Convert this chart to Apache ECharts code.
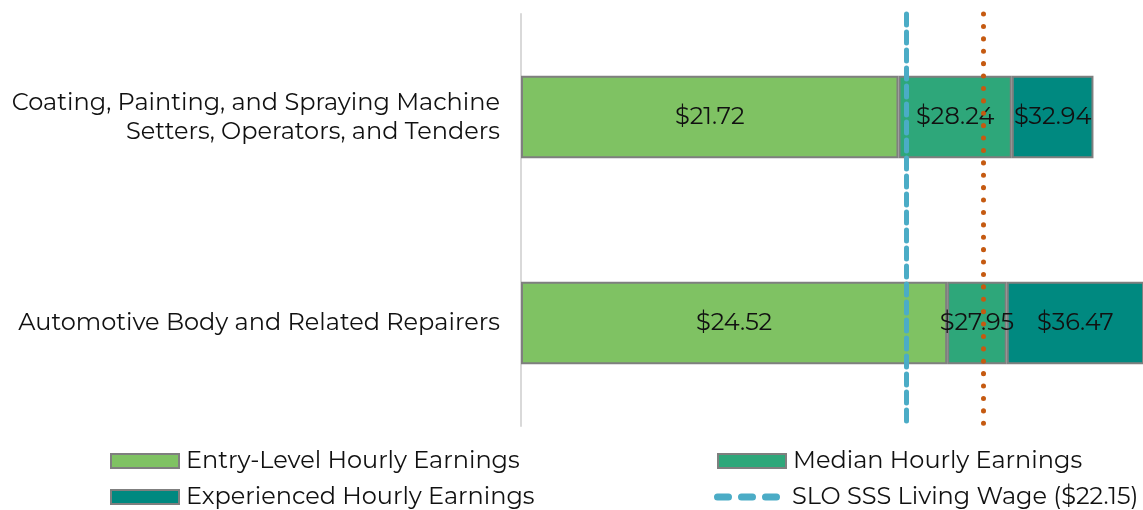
<!DOCTYPE html>
<html>
<head>
<meta charset="utf-8">
<script src="https://cdn.jsdelivr.net/npm/echarts@6/dist/echarts.min.js"></script>
<style>
  html, body { margin: 0; padding: 0; background: #fff; }
  #chartBox { width: 1143px; height: 510px; }
</style>
</head>
<body>
<div id="chartBox"></div>
<script>
// occupations, top to bottom
const categories = [
  'Coating, Painting, and Spraying Machine\nSetters, Operators, and Tenders',
  'Automotive Body and Related Repairers'
]
// hourly earnings (cumulative values as labelled)
const entryLevel = [21.72, 24.52]
const median = [28.24, 27.95]
const experienced = [32.94, 36.47]
// reference lines
const livingWage = 22.15
const otherLine = 26.58

const font = 'Montserrat, "DejaVu Sans", sans-serif'
const border = { borderColor: '#7f7f7f', borderWidth: 2 }

// three rounded dashes for the living wage legend entry
const dashIcon = 'path://M3.5,0h11a3.5,3.5 0 0 1 0,7h-11a3.5,3.5 0 0 1 0,-7z' +
  'M27.5,0h11a3.5,3.5 0 0 1 0,7h-11a3.5,3.5 0 0 1 0,-7z' +
  'M51.5,0h11a3.5,3.5 0 0 1 0,7h-11a3.5,3.5 0 0 1 0,-7z'

function labelFor(values) {
  return {
    show: true,
    position: 'inside',
    color: '#111',
    fontSize: 24,
    fontFamily: font,
    formatter: p => '$' + values[p.dataIndex].toFixed(2)
  }
}

const chart = echarts.init(document.getElementById('chartBox'))
const option = {
  animation: false,
  grid: { left: 521, right: 0, top: 14, bottom: 84 },
  xAxis: {
    type: 'value',
    min: 0,
    max: 35.79,
    show: false,
    splitLine: { show: false }
  },
  yAxis: {
    type: 'category',
    inverse: true,
    data: categories,
    axisTick: { show: false },
    axisLine: { show: true, lineStyle: { color: '#d9d9d9', width: 2 } },
    axisLabel: {
      margin: 21,
      fontSize: 24,
      lineHeight: 29,
      color: '#111',
      fontFamily: font,
      align: 'right',
      padding: [0, 0, 5, 0]
    }
  },
  legend: [
    { left: 110, top: 447, icon: 'rect', data: ['Entry-Level Hourly Earnings'] },
    { left: 110, top: 483, icon: 'rect', data: ['Experienced Hourly Earnings'] },
    { left: 717, top: 447, icon: 'rect', data: ['Median Hourly Earnings'] },
    {
      left: 714, top: 483, itemWidth: 66, itemHeight: 7,
      data: [{ name: 'SLO SSS Living Wage ($22.15)', icon: dashIcon }],
      textStyle: { fontSize: 24, lineHeight: 28, color: '#111', fontFamily: font, padding: [0, 0, 0, 7] }
    }
  ].map(l => Object.assign({
    padding: 0,
    itemWidth: 68,
    itemHeight: 14,
    textStyle: { fontSize: 24, lineHeight: 28, color: '#111', fontFamily: font, padding: [0, 0, 0, 2] }
  }, l)),
  series: [
    {
      name: 'Entry-Level Hourly Earnings',
      type: 'bar',
      stack: 'pay',
      barWidth: '40%',
      data: entryLevel,
      itemStyle: Object.assign({ color: '#7fc263' }, border),
      label: labelFor(entryLevel)
    },
    {
      name: 'Median Hourly Earnings',
      type: 'bar',
      stack: 'pay',
      data: median.map((v, i) => +(v - entryLevel[i]).toFixed(2)),
      itemStyle: Object.assign({ color: '#2ea77a' }, border),
      label: labelFor(median)
    },
    {
      name: 'Experienced Hourly Earnings',
      type: 'bar',
      stack: 'pay',
      data: experienced.map((v, i) => +(v - median[i]).toFixed(2)),
      itemStyle: Object.assign({ color: '#008980' }, border),
      label: labelFor(experienced)
    },
    {
      name: 'SLO SSS Living Wage ($22.15)',
      type: 'line',
      symbol: 'none',
      data: [],
      color: '#4bacc6',
      itemStyle: { color: '#4bacc6' },
      lineStyle: { color: '#4bacc6', width: 0 },
      markLine: {
        silent: true,
        symbol: 'none',
        label: { show: false },
        lineStyle: { color: '#4bacc6', width: 5, type: [11, 7], cap: 'round' },
        data: [{ xAxis: livingWage }]
      }
    },
    {
      name: 'other',
      type: 'line',
      symbol: 'none',
      data: [],
      markLine: {
        silent: true,
        symbol: 'none',
        label: { show: false },
        lineStyle: { color: '#c55a11', width: 5, type: [0.1, 12.3], cap: 'round' },
        data: [{ xAxis: otherLine }]
      }
    }
  ]
}
chart.setOption(option)
</script>
</body>
</html>
